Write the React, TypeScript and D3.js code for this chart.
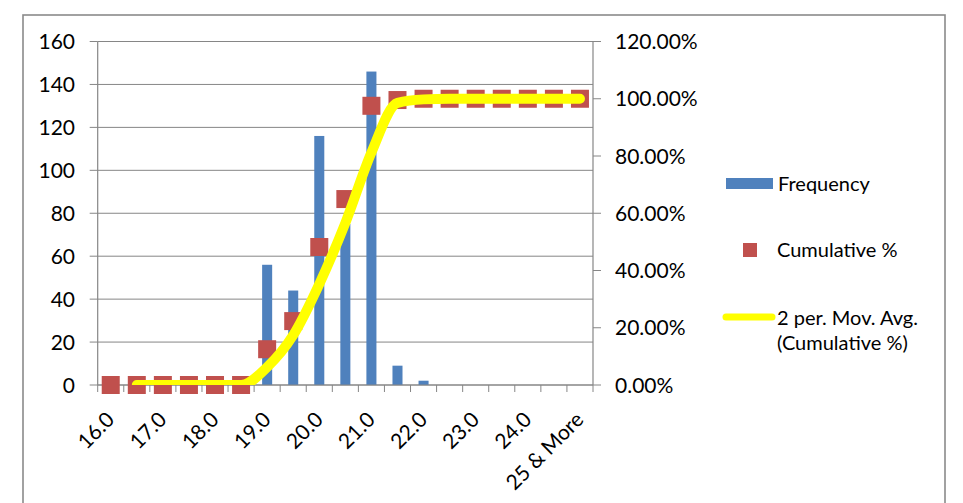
import React from "react";
import * as d3 from "d3";

// Histogram bins (upper bound of each bin), labels shown on every other bin
const bins = [
  "16.0", "16.5", "17.0", "17.5", "18.0", "18.5", "19.0", "19.5", "20.0", "20.5",
  "21.0", "21.5", "22.0", "22.5", "23.0", "23.5", "24.0", "24.5", "25 & More",
];
const frequency = [0, 0, 0, 0, 0, 0, 56, 44, 116, 75, 146, 9, 2, 0, 0, 0, 0, 0, 0];
const cumulativePct = [
  0, 0, 0, 0, 0, 0, 12.5, 22.32, 48.21, 64.96, 97.54, 99.55, 100, 100, 100, 100, 100, 100, 100,
];
// 2-period moving average of the cumulative %, starting at the second bin
const movingAvg: (number | null)[] = [
  null, 0, 0, 0, 0, 0, 6.25, 17.41, 35.27, 56.59, 81.25, 98.55, 99.78, 100, 100, 100, 100, 100, 100,
];
const leftTicks = [0, 20, 40, 60, 80, 100, 120, 140, 160];
const rightTicks = [0, 20, 40, 60, 80, 100, 120];

const W = 963;
const H = 503;
const FONT = "Lato, 'Open Sans', sans-serif";
const GRID = "#868686";
const BAR = "#4F81BD";
const MARK = "#C0504D";
const LINE = "#FFFF00";

export default function App() {
  const plot = { left: 97.7, right: 593, top: 41.5, bottom: 385 };

  const x = d3.scaleBand<string>().domain(bins).range([plot.left, plot.right]).padding(0);
  const yL = d3.scaleLinear().domain([0, 160]).range([plot.bottom, plot.top]);
  const yR = d3.scaleLinear().domain([0, 120]).range([plot.bottom, plot.top]);
  const bw = x.bandwidth();
  const barW = bw * 0.385;
  const cx = (b: string) => (x(b) as number) + bw / 2;

  const linePts = bins
    .map((b, i) => ({ b, v: movingAvg[i] }))
    .filter((d) => d.v !== null) as { b: string; v: number }[];
  const linePath = d3
    .line<{ b: string; v: number }>()
    .x((d) => cx(d.b))
    .y((d) => yR(d.v))
    .curve(d3.curveMonotoneX)(linePts) as string;

  const ms = 18;
  const axisFont = 21;
  const legendFont = 20;

  return (
    <svg
      width={W}
      height={H}
      style={{ position: "absolute", left: 0, top: 0, background: "#fff" }}
      fontFamily={FONT}
    >
      <defs>
        <clipPath id="plotClip">
          <rect x={plot.left} y={plot.top} width={plot.right - plot.left} height={plot.bottom - plot.top} />
        </clipPath>
      </defs>
      {/* chart frame */}
      <rect x={23} y={15} width={922} height={520} fill="#fff" stroke="#8a8a8a" strokeWidth={1.6} />

      {/* horizontal gridlines */}
      {leftTicks.map((t) => (
        <line key={t} x1={plot.left} x2={plot.right} y1={yL(t)} y2={yL(t)} stroke={GRID} strokeWidth={1} />
      ))}

      {/* frequency bars */}
      {bins.map((b, i) =>
        frequency[i] > 0 ? (
          <rect
            key={b}
            x={cx(b) - barW / 2}
            y={yL(frequency[i])}
            width={barW}
            height={plot.bottom - yL(frequency[i])}
            fill={BAR}
          />
        ) : null
      )}

      {/* axes */}
      <line x1={plot.left} x2={plot.left} y1={plot.top} y2={plot.bottom} stroke={GRID} strokeWidth={1.2} />
      <line x1={plot.right} x2={plot.right} y1={plot.top} y2={plot.bottom} stroke={GRID} strokeWidth={1.2} />
      <line x1={plot.left} x2={plot.right} y1={plot.bottom} y2={plot.bottom} stroke={GRID} strokeWidth={1.2} />
      {leftTicks.map((t) => (
        <line key={"lt" + t} x1={plot.left - 8} x2={plot.left} y1={yL(t)} y2={yL(t)} stroke={GRID} />
      ))}
      {rightTicks.map((t) => (
        <line key={"rt" + t} x1={plot.right} x2={plot.right + 8} y1={yR(t)} y2={yR(t)} stroke={GRID} />
      ))}
      {bins.map((b) => (
        <line key={"xt" + b} x1={x(b)} x2={x(b)} y1={plot.bottom} y2={plot.bottom + 7} stroke={GRID} />
      ))}
      <line x1={plot.right} x2={plot.right} y1={plot.bottom} y2={plot.bottom + 7} stroke={GRID} />

      {/* cumulative % markers */}
      {bins.map((b, i) => (
        <rect key={"m" + b} x={cx(b) - ms / 2} y={yR(cumulativePct[i]) - ms / 2} width={ms} height={ms} fill={MARK} />
      ))}

      {/* moving average trendline */}
      <path
        d={linePath}
        fill="none"
        stroke={LINE}
        strokeWidth={10}
        strokeLinecap="round"
        strokeLinejoin="round"
        clipPath="url(#plotClip)"
      />

      {/* axis labels */}
      {leftTicks.map((t) => (
        <text key={"ll" + t} x={75} y={yL(t)} dy="0.36em" textAnchor="end" fontSize={axisFont} fill="#000">
          {t}
        </text>
      ))}
      {rightTicks.map((t) => (
        <text key={"rl" + t} x={615} y={yR(t)} dy="0.36em" textAnchor="start" fontSize={axisFont} fill="#000">
          {t.toFixed(2) + "%"}
        </text>
      ))}
      {bins.map((b, i) =>
        i % 2 === 0 ? (
          <text
            key={"xl" + b}
            transform={`translate(${cx(b) + 5},${421}) rotate(-45)`}
            textAnchor="end"
            fontSize={axisFont}
            fill="#000"
          >
            {b}
          </text>
        ) : null
      )}

      {/* legend */}
      <rect x={726} y={178} width={47} height={11} fill={BAR} />
      <text x={778} y={184} dy="0.36em" fontSize={legendFont} fill="#000">Frequency</text>
      <rect x={743} y={243} width={14} height={14} fill={MARK} />
      <text x={777} y={250} dy="0.36em" fontSize={legendFont} fill="#000">Cumulative %</text>
      <line x1={726} x2={772} y1={317} y2={317} stroke={LINE} strokeWidth={7} strokeLinecap="round" />
      <text x={777} y={318} dy="0.36em" fontSize={legendFont} fill="#000">2 per. Mov. Avg.</text>
      <text x={777} y={343} dy="0.36em" fontSize={legendFont} fill="#000">(Cumulative %)</text>
    </svg>
  );
}
